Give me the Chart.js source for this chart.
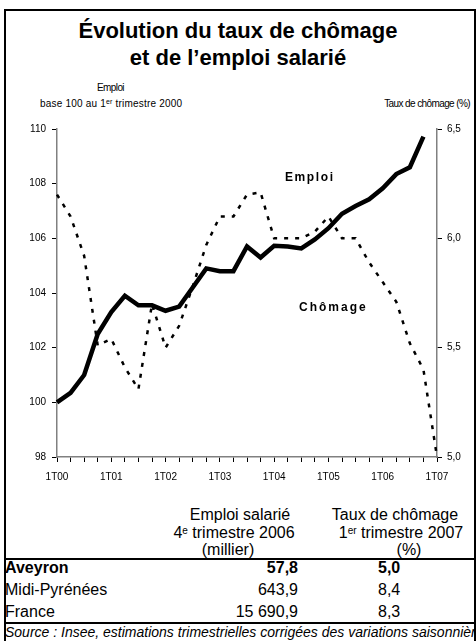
<!DOCTYPE html>
<html>
<head>
<meta charset="utf-8">
<script src="https://cdn.jsdelivr.net/npm/chart.js@4.4.1/dist/chart.umd.min.js"></script>
<style>
  body { margin: 0; background: #fff; font-family: "Liberation Sans", Arial, sans-serif; }
  #page { position: relative; width: 476px; height: 641px; overflow: hidden; }
  #frame { position: absolute; left: 4px; top: 9px; width: 468px; height: 640px; border: 2px solid #000; border-bottom: none; }
  .t { position: absolute; white-space: nowrap; color: #000; }
  sup { vertical-align: baseline; position: relative; top: -0.45em; line-height: 0; }
  #title { left: 0; width: 476px; top: 17px; text-align: center; font-weight: bold; font-size: 22px; line-height: 27px; }
  .small { font-size: 10px; line-height: 12px; }
  .tbl { font-size: 16px; line-height: 18px; }
  .hline { position: absolute; left: 4px; width: 472px; height: 2px; background: #000; }
  #chartBox { position: absolute; left: 0; top: 115px; width: 476px; height: 375px; }
  .lbl { font-weight: bold; font-size: 12px; letter-spacing: 1.6px; line-height: 14px; }
</style>
</head>
<body>
<div id="page">
  <div id="frame"></div>
  <div id="title" class="t">Évolution du taux de chômage<br>et de l’emploi salarié</div>
  <div class="t small" style="left:97px; top:82px; letter-spacing:-0.6px;">Emploi</div>
  <div class="t small" style="left:40px; top:98px; letter-spacing:0.2px;">base 100 au 1<sup style="font-size:7px">er</sup> trimestre 2000</div>
  <div class="t small" style="left:370px; width:100px; text-align:right; top:98px; letter-spacing:-0.6px;">Taux de chômage (%)</div>

  <div id="chartBox"><canvas id="canvas" width="476" height="375"></canvas></div>

  <div class="t lbl" style="left:285px; top:170px;">Emploi</div>
  <div class="t lbl" style="left:299px; top:300px; letter-spacing:2px;">Chômage</div>

  <div class="t tbl" style="left:140px; width:200px; top:506px; text-align:center;">Emploi salarié</div>
  <div class="t tbl" style="left:134px; width:200px; top:524px; text-align:center;">4<sup style="font-size:10px">e</sup> trimestre 2006</div>
  <div class="t tbl" style="left:128px; width:200px; top:541px; text-align:center;">(millier)</div>
  <div class="t tbl" style="left:295px; width:200px; top:506px; text-align:center;">Taux de chômage</div>
  <div class="t tbl" style="left:301px; width:200px; top:524px; text-align:center;">1<sup style="font-size:10px">er</sup> trimestre 2007</div>
  <div class="t tbl" style="left:309px; width:200px; top:541px; text-align:center;">(%)</div>
  <div class="hline" style="top:558px;"></div>
  <div id="rows"></div>
  <div class="hline" style="top:622px;"></div>
  <div class="t" style="left:5px; top:624px; font-size:14px; line-height:16px; font-style:italic;">Source : Insee, estimations trimestrielles corrigées des variations saisonnières</div>
</div>
<script>
// quarters 1T00 .. 1T07
const quarters = [
  "1T00","2T00","3T00","4T00","1T01","2T01","3T01","4T01",
  "1T02","2T02","3T02","4T02","1T03","2T03","3T03","4T03",
  "1T04","2T04","3T04","4T04","1T05","2T05","3T05","4T05",
  "1T06","2T06","3T06","4T06","1T07"
];
// emploi salarie, base 100 au 1T00 (ends 4T06)
const emploi = [
  100.0, 100.35, 101.0, 102.5, 103.3, 103.9, 103.55, 103.55,
  103.35, 103.5, 104.2, 104.9, 104.8, 104.8, 105.7, 105.3,
  105.73, 105.7, 105.63, 105.96, 106.37, 106.9, 107.18, 107.43,
  107.83, 108.35, 108.6, 109.72
];
// taux de chomage (%)
const chomage = [
  6.20, 6.10, 5.92, 5.51, 5.54, 5.41, 5.31, 5.70,
  5.50, 5.60, 5.78, 5.97, 6.10, 6.10, 6.20, 6.21,
  6.00, 6.00, 6.00, 6.03, 6.10, 6.00, 6.00, 5.89,
  5.80, 5.71, 5.52, 5.40, 5.00
];
const leftTicks = [98, 100, 102, 104, 106, 108, 110];
const rightTicks = [5.0, 5.5, 6.0, 6.5];

const zones = ["Aveyron", "Midi-Pyrénées", "France"];
const emploiZone = ["57,8", "643,9", "15 690,9"];
const chomageZone = ["5,0", "8,4", "8,3"];

const rows = document.getElementById("rows");
const rowTops = [559, 581, 603];
zones.forEach(function(z, i) {
  const w = i === 0 ? "bold" : "normal";
  rows.innerHTML +=
    `<div class="t tbl" style="left:5px; top:${rowTops[i]}px; font-weight:${w}">${z}</div>` +
    `<div class="t tbl" style="left:150px; width:148px; text-align:right; top:${rowTops[i]}px; font-weight:${w}">${emploiZone[i]}</div>` +
    `<div class="t tbl" style="left:378px; top:${rowTops[i]}px; font-weight:${w}">${chomageZone[i]}</div>`;
});

const tickFont = { size: 10, family: "Liberation Sans, Arial, sans-serif" };
const canvas = document.getElementById("canvas");

const myChartConfig = {
  type: "line",
  data: {
    labels: quarters,
    datasets: [{
      label: "Emploi",
      data: emploi,
      yAxisID: "y",
      borderColor: "#000",
      borderWidth: 4.5,
      pointRadius: 0,
      tension: 0,
      borderJoinStyle: "miter"
    }, {
      label: "Chômage",
      data: chomage,
      yAxisID: "y1",
      borderColor: "#000",
      borderWidth: 2.5,
      borderDash: [4, 7],
      pointRadius: 0,
      tension: 0
    }]
  },
  options: {
    responsive: false,
    animation: false,
    layout: { padding: { top: 14, bottom: 0, left: 0, right: 0 } },
    plugins: { legend: { display: false }, tooltip: { enabled: false } },
    scales: {
      x: {
        offset: false,
        grid: { drawOnChartArea: false, color: "#000", tickLength: 5, offset: false },
        border: { color: "#808080", width: 1.5 },
        ticks: {
          autoSkip: false, maxRotation: 0, padding: 9, color: "#000", font: tickFont,
          callback: function(v, i) { return quarters[i].startsWith("1T") ? quarters[i] : ""; }
        },
        afterFit: function(s) { s.height = 33; }
      },
      y: {
        position: "left",
        min: 98, max: 110,
        afterBuildTicks: function(s) { s.ticks = leftTicks.map(v => ({ value: v })); },
        grid: { drawOnChartArea: false, color: "#000", tickLength: 5 },
        border: { color: "#808080", width: 1.5 },
        ticks: { padding: 6, color: "#000", font: tickFont },
        afterFit: function(s) { s.width = 57; }
      },
      y1: {
        position: "right",
        min: 5.0, max: 6.5,
        afterBuildTicks: function(s) { s.ticks = rightTicks.map(v => ({ value: v })); },
        grid: { drawOnChartArea: false, color: "#000", tickLength: 5 },
        border: { color: "#808080", width: 1.5 },
        ticks: { padding: 5, color: "#000", font: tickFont,
          callback: function(v) { return v.toFixed(1).replace(".", ","); } },
        afterFit: function(s) { s.width = 39; }
      }
    }
  }
};

var myChart = new Chart(canvas.getContext("2d"), myChartConfig);
</script>
</body>
</html>
